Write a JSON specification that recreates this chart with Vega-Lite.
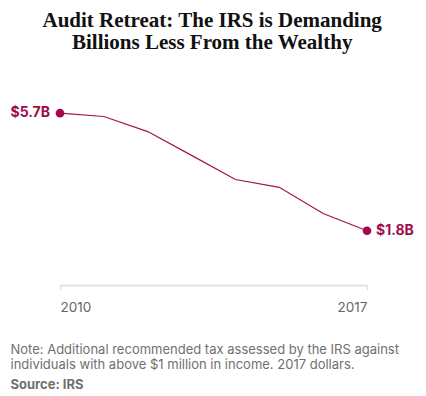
{
  "$schema": "https://vega.github.io/schema/vega-lite/v6.json",
  "autosize": {"type": "pad"},
  "padding": {"left": 10, "top": 10, "right": 4, "bottom": 4},
  "background": "white",
  "config": {"view": {"stroke": null}, "font": "Inter"},
  "title": {
    "text": ["Audit Retreat: The IRS is Demanding", "Billions Less From the Wealthy"],
    "font": "Liberation Serif",
    "fontSize": 21,
    "fontWeight": "bold",
    "color": "#111111",
    "anchor": "middle",
    "lineHeight": 22,
    "offset": 18
  },
  "datasets": {
    "audits": [
      {"year": 2010, "value": 5.7},
      {"year": 2011, "value": 5.59},
      {"year": 2012, "value": 5.09},
      {"year": 2013, "value": 4.3},
      {"year": 2014, "value": 3.5},
      {"year": 2015, "value": 3.24},
      {"year": 2016, "value": 2.37},
      {"year": 2017, "value": 1.8}
    ],
    "ends": [
      {"year": 2010, "value": 5.7, "label": "$5.7B", "side": "left"},
      {"year": 2017, "value": 1.8, "label": "$1.8B", "side": "right"}
    ]
  },
  "vconcat": [
    {
      "width": 307,
      "height": 214,
      "title": {
        "text": ["Note: Additional recommended tax assessed by the IRS against", "individuals with above $1 million in income. 2017 dollars."],
        "subtitle": "Source: IRS",
        "orient": "bottom",
        "anchor": "start",
        "frame": "bounds",
        "font": "Inter",
        "fontSize": 13,
        "fontWeight": "normal",
        "color": "#707070",
        "lineHeight": 15.5,
        "subtitleFont": "Inter",
        "subtitleFontSize": 13,
        "subtitleFontWeight": "bold",
        "subtitleColor": "#707070",
        "subtitlePadding": 7,
        "offset": 30
      },
      "layer": [
        {
          "mark": {"type": "rule", "color": "#dddddd", "strokeWidth": 1},
          "encoding": {"x": {"datum": 2010, "type": "quantitative"}}
        },
        {
          "data": {"name": "audits"},
          "mark": {"type": "line", "color": "#a3134f", "strokeWidth": 1.2},
          "encoding": {
            "x": {
              "field": "year",
              "type": "quantitative",
              "scale": {"domain": [2010, 2017], "nice": false, "zero": false},
              "axis": {
                "values": [2010, 2017],
                "format": "d",
                "title": null,
                "grid": false,
                "domainColor": "#e3e3e3",
                "domainWidth": 2,
                "tickColor": "#e3e3e3",
                "tickWidth": 1.5,
                "tickSize": 5,
                "labelColor": "#666666",
                "labelFont": "Inter",
                "labelFontSize": 13.5,
                "labelPadding": 10
              }
            },
            "y": {
              "field": "value",
              "type": "quantitative",
              "scale": {"domain": [0, 7.1], "nice": false},
              "axis": null
            }
          }
        },
        {
          "data": {"name": "ends"},
          "mark": {"type": "point", "filled": true, "opacity": 1, "size": 75, "color": "#9e0a4c"},
          "encoding": {
            "x": {"field": "year", "type": "quantitative"},
            "y": {"field": "value", "type": "quantitative"}
          }
        },
        {
          "data": {"name": "ends"},
          "transform": [{"filter": "datum.side === 'left'"}],
          "mark": {"type": "text", "align": "right", "dx": -10, "fontWeight": "bold", "fontSize": 14, "font": "Inter", "color": "#9e0a4c"},
          "encoding": {
            "x": {"field": "year", "type": "quantitative"},
            "y": {"field": "value", "type": "quantitative"},
            "text": {"field": "label"}
          }
        },
        {
          "data": {"name": "ends"},
          "transform": [{"filter": "datum.side === 'right'"}],
          "mark": {"type": "text", "align": "left", "dx": 9, "fontWeight": "bold", "fontSize": 14, "font": "Inter", "color": "#9e0a4c"},
          "encoding": {
            "x": {"field": "year", "type": "quantitative"},
            "y": {"field": "value", "type": "quantitative"},
            "text": {"field": "label"}
          }
        }
      ]
    }
  ]
}
